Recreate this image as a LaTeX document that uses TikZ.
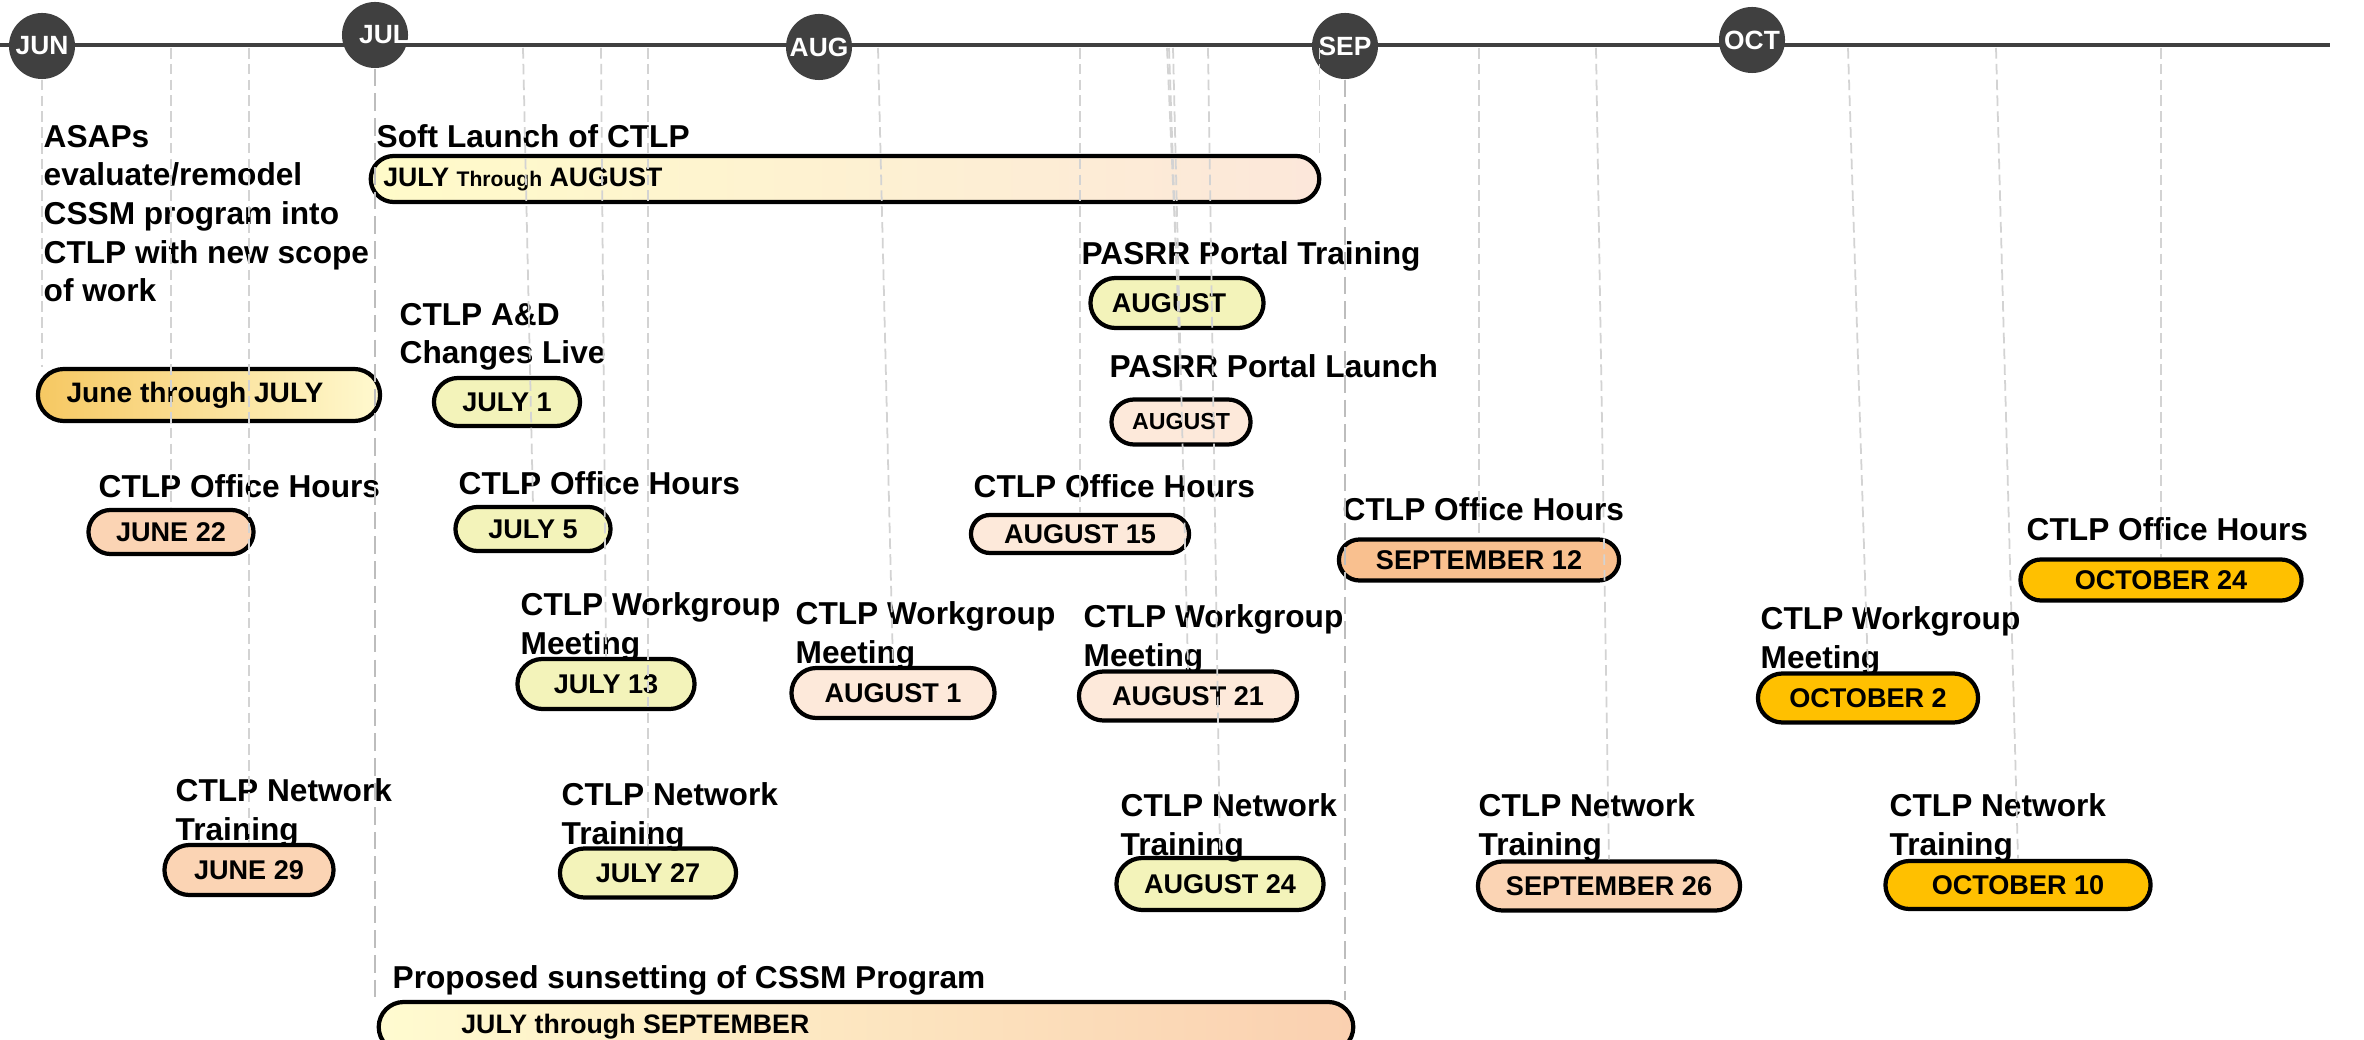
\documentclass[tikz,border=0pt]{standalone}
\usepackage{fontspec}
\setmainfont{Liberation Sans}
\usetikzlibrary{shapes.misc}
\definecolor{MonthGray}{HTML}{404040}
\definecolor{TickGray}{HTML}{D3D3D3}
\definecolor{SpineGray}{HTML}{BDBDBD}
\definecolor{PeachFill}{HTML}{FBD4B4}
\definecolor{SepFill}{HTML}{F9C08F}
\definecolor{PaleYellow}{HTML}{F3F3BA}
\definecolor{LightPeach}{HTML}{FDE9DA}
\definecolor{OctGold}{HTML}{FFC000}
\definecolor{GoldStart}{HTML}{F6C862}
\definecolor{CreamEnd}{HTML}{FFF9CF}
\definecolor{SoftStart}{HTML}{FFFBC9}
\definecolor{SoftEnd}{HTML}{FCE7DA}
\definecolor{SunStart}{HTML}{FFFBD0}
\definecolor{SunEnd}{HTML}{FAD0B0}

\begin{document}
\begin{tikzpicture}[
    x=0.01cm, y=-0.01cm,
    month/.style={circle, fill=MonthGray, minimum size=0.66cm, inner sep=0pt, text=white, font=\fontsize{7.5}{9}\selectfont\bfseries},
    monthtxt/.style={text=white, inner sep=0pt, font=\fontsize{7.5}{9}\selectfont\bfseries},
    lbl/.style={anchor=base west, inner sep=0pt, align=left, font=\fontsize{9}{11}\selectfont\bfseries},
    pill/.style={rounded rectangle, draw=black, line width=1.2pt, inner sep=0pt, font=\fontsize{7.7}{9}\selectfont\bfseries},
    boxtxt/.style={inner sep=0pt, anchor=west, font=\fontsize{7.6}{9}\selectfont\bfseries},
    tick/.style={draw=TickGray, dash pattern=on 3pt off 1.5pt, line width=0.5pt},
    spine/.style={draw=SpineGray, dash pattern=on 5pt off 2pt, line width=0.6pt}
  ]
  \useasboundingbox (0,0) rectangle (2364,1040);
  \clip (0,0) rectangle (2364,1040);

  % Timeline and months
  \draw[MonthGray, line width=1pt] (0,45) -- (2330,45);
  \coordinate (tl) at (0,48);
  \node[month] (jun) at (42,46) {JUN};
  \node[month] (jul) at (375,35) {};
  \node[monthtxt] at ([xshift=0.09cm]jul.center) {JUL};
  \node[month] (aug) at (819,47) {AUG};
  \node[month] (sep) at (1345,46) {SEP};
  \node[month] (oct) at (1752,40) {OCT};

  % Long bars
  \node[pill, minimum width=3.42cm, minimum height=0.52cm, left color=GoldStart, right color=CreamEnd, font=\fontsize{8}{9}\selectfont\bfseries] (junjul) at (209,395) {June through JULY\hspace*{0.28cm}};
  \node[pill, minimum width=9.48cm, minimum height=0.46cm, left color=SoftStart, right color=SoftEnd] (soft) at (845,179) {};
  \node[boxtxt] at ([xshift=0.14cm]soft.west) {JULY {\fontsize{6}{7}\selectfont Through} AUGUST};
  \node[pill, minimum width=9.74cm, minimum height=0.50cm, left color=SunStart, right color=SunEnd] (sunset) at (866,1027) {};
  \node[boxtxt] at ([xshift=0.84cm]sunset.west) {JULY through SEPTEMBER};

  % Event boxes
  \node[pill, fill=PaleYellow, minimum width=1.46cm, minimum height=0.48cm] (jul1) at (507,402) {JULY 1};
  \node[pill, fill=PeachFill, minimum width=1.65cm, minimum height=0.44cm] (jun22) at (171,532) {JUNE 22};
  \node[pill, fill=PaleYellow, minimum width=1.55cm, minimum height=0.44cm] (jul5) at (533,529) {JULY 5};
  \node[pill, fill=PaleYellow, minimum width=1.77cm, minimum height=0.50cm] (jul13) at (606,684) {JULY 13};
  \node[pill, fill=PeachFill, minimum width=1.69cm, minimum height=0.50cm] (jun29) at (249,870) {JUNE 29};
  \node[pill, fill=PaleYellow, minimum width=1.76cm, minimum height=0.49cm] (jul27) at (648,873) {JULY 27};
  \node[pill, fill=PaleYellow, minimum width=1.73cm, minimum height=0.50cm] (pasrrT) at (1177,303) {AUGUST\hspace*{0.16cm}};
  \node[pill, fill=LightPeach, minimum width=1.39cm, minimum height=0.45cm, font=\fontsize{6.6}{8}\selectfont\bfseries] (pasrrL) at (1181,422) {AUGUST};
  \node[pill, fill=LightPeach, minimum width=2.18cm, minimum height=0.38cm] (aug15) at (1080,534) {AUGUST 15};
  \node[pill, fill=SepFill, minimum width=2.80cm, minimum height=0.41cm] (sep12) at (1479,560) {SEPTEMBER 12};
  \node[pill, fill=LightPeach, minimum width=2.03cm, minimum height=0.50cm] (aug1) at (893,693) {AUGUST 1};
  \node[pill, fill=LightPeach, minimum width=2.18cm, minimum height=0.49cm] (aug21) at (1188,696) {AUGUST 21};
  \node[pill, fill=PaleYellow, minimum width=2.07cm, minimum height=0.52cm] (aug24) at (1220,884) {AUGUST 24};
  \node[pill, fill=PeachFill, minimum width=2.62cm, minimum height=0.49cm] (sep26) at (1609,886) {SEPTEMBER 26};
  \node[pill, fill=OctGold, minimum width=2.20cm, minimum height=0.49cm] (oct2) at (1868,698) {OCTOBER 2};
  \node[pill, fill=OctGold, minimum width=2.65cm, minimum height=0.48cm] (oct10) at (2018,885) {OCTOBER 10};
  \node[pill, fill=OctGold, minimum width=2.81cm, minimum height=0.41cm] (oct24) at (2161,580) {OCTOBER 24};

  % Labels (base = last line)
  \node[lbl] (asapsLbl) at (43,302) {ASAPs\\evaluate/remodel\\CSSM program into\\CTLP with new scope\\of work};
  \node[lbl] (softLbl) at (376,148) {Soft Launch of CTLP};
  \node[lbl] (adLbl) at (399,364) {CTLP A\&D\\Changes Live};
  \node[lbl] (pasrrTLbl) at (1081,265) {PASRR Portal Training};
  \node[lbl] (pasrrLLbl) at (1109,377) {PASRR Portal Launch};
  \node[lbl] (oh1) at (98,497) {CTLP Office Hours};
  \node[lbl] (oh2) at (458,494) {CTLP Office Hours};
  \node[lbl] (oh3) at (973,497) {CTLP Office Hours};
  \node[lbl] (oh4) at (1342,520) {CTLP Office Hours};
  \node[lbl] (oh5) at (2026,540) {CTLP Office Hours};
  \node[lbl] (wg1) at (520,654) {CTLP Workgroup\\Meeting};
  \node[lbl] (wg2) at (795,663) {CTLP Workgroup\\Meeting};
  \node[lbl] (wg3) at (1083,666) {CTLP Workgroup\\Meeting};
  \node[lbl] (wg4) at (1760,668) {CTLP Workgroup\\Meeting};
  \node[lbl] (nt1) at (175,840) {CTLP Network\\Training};
  \node[lbl] (nt2) at (561,844) {CTLP Network\\Training};
  \node[lbl] (nt3) at (1120,855) {CTLP Network\\Training};
  \node[lbl] (nt4) at (1478,855) {CTLP Network\\Training};
  \node[lbl] (nt5) at (1889,855) {CTLP Network\\Training};
  \node[lbl] (sunLbl) at (392,988) {Proposed sunsetting of CSSM Program};

  % Date ticks
  \draw[tick] (jun.south) -- (jun.south |- junjul.north);
  \draw[spine] (jul.south) -- (jul.south |- sunset.north);
  \draw[spine] (sep.south) -- (sep.south |- sunset.north);
  \draw[tick] ([xshift=-0.02cm]soft.east |- tl) -- ([xshift=-0.02cm]soft.east |- soft.north);
  \draw[tick] (jun22.north |- tl) -- (jun22.north);
  \draw[tick] (jun29.north |- tl) -- (jun29.north);
  \draw[tick] ([xshift=-0.1cm]jul5.north |- tl) -- (jul5.north);
  \draw[tick] ([xshift=-0.05cm]jul13.north |- tl) -- (jul13.north);
  \draw[tick] (jul27.north |- tl) -- (jul27.north);
  \draw[tick] ([xshift=-0.15cm]aug1.north |- tl) -- (aug1.north);
  \draw[tick] (aug15.north |- tl) -- (aug15.north);
  \draw[tick] ([xshift=-0.1cm]pasrrT.north |- tl) -- (pasrrT.north);
  \draw[tick] ([xshift=-0.12cm]pasrrL.north |- tl) -- (pasrrL.north);
  \draw[tick] ([xshift=-0.15cm]aug21.north |- tl) -- (aug21.north);
  \draw[tick] ([xshift=-0.12cm]aug24.north |- tl) -- (aug24.north);
  \draw[tick] (sep12.north |- tl) -- (sep12.north);
  \draw[tick] ([xshift=-0.13cm]sep26.north |- tl) -- (sep26.north);
  \draw[tick] ([xshift=-0.2cm]oct2.north |- tl) -- (oct2.north);
  \draw[tick] ([xshift=-0.22cm]oct10.north |- tl) -- (oct10.north);
  \draw[tick] (oct24.north |- tl) -- (oct24.north);
\end{tikzpicture}
\end{document}
